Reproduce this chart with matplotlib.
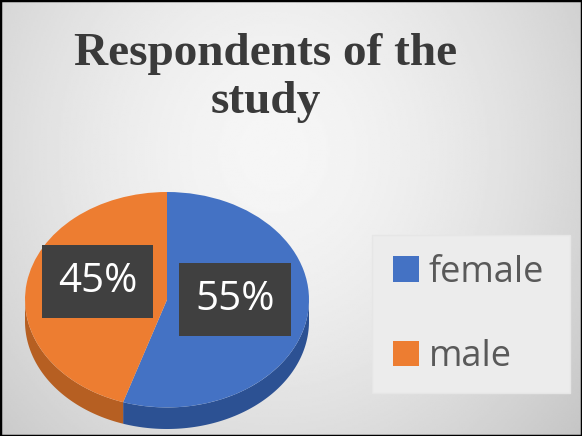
import numpy as np
import matplotlib.pyplot as plt
from matplotlib.patches import Polygon, Rectangle

labels = ['female', 'male']
shares = [55, 45]
top_colors = ['#4472c4', '#ed7d31']
side_colors = ['#2c5193', '#b65f22']

W, H = 582, 436
fig = plt.figure(figsize=(W / 100, H / 100), dpi=100)

# soft grey radial backdrop
bg = fig.add_axes([0, 0, 1, 1])
yy, xx = np.mgrid[0:1:220j, 0:1:290j]
dist = np.sqrt(((xx - 0.47) / 0.75) ** 2 + ((yy - 0.35) / 1.1) ** 2)
shade = np.clip(0.965 - 0.22 * dist ** 1.6, 0, 1)
bg.imshow(shade, cmap='gray', vmin=0, vmax=1, aspect='auto',
          extent=(0, 1, 0, 1), interpolation='bilinear')
bg.set_xlim(0, 1)
bg.set_ylim(0, 1)
bg.set_axis_off()

fig.text(266 / W, 1 - 78 / H, 'Respondents of the\nstudy', ha='center', va='center',
         fontsize=34, fontweight='bold', family='Liberation Serif',
         color='#3a3a3a', linespacing=1.2)

# tilted pie: squashed top face plus a darker rim below it
depth = 0.2
ax = fig.add_axes([25 / W, (H - 429) / H, 284 / W, (429 - 192) / H])
wedges, texts, autotexts = ax.pie(
    shares, colors=top_colors, startangle=90, counterclock=False,
    autopct='%.0f%%', pctdistance=0.5,
    wedgeprops=dict(linewidth=0, zorder=3),
    textprops=dict(color='white', fontsize=29, family='Open Sans', zorder=5))

for w, c in zip(wedges, side_colors):
    t = np.radians(np.linspace(w.theta1, w.theta2, 300))
    keep = np.sin(t) <= 0
    if not keep.any():
        continue
    t = t[keep]
    upper = np.column_stack([np.cos(t), np.sin(t)])
    lower = np.column_stack([np.cos(t), np.sin(t) - depth])[::-1]
    ax.add_patch(Polygon(np.vstack([upper, lower]), closed=True,
                         fc=c, ec='none', zorder=2))

label_pos = [(0.48, 0.0), (-0.49, 0.17)]
for at, pos in zip(autotexts, label_pos):
    at.set_position(pos)
    at.set_bbox(dict(boxstyle='square,pad=0.4', fc='#404040', ec='none'))

ax.set_aspect('auto')
ax.set_xlim(-1, 1)
ax.set_ylim(-1 - depth, 1)
ax.set_axis_off()

# legend panel
fig.patches.append(Rectangle((372 / W, (H - 393) / H), 198 / W, 158 / H,
                             transform=fig.transFigure, fc='#ececec',
                             ec='#e6e6e6', lw=1, zorder=1))
fig.legend(wedges, labels, loc='center left', bbox_to_anchor=(379 / W, (H - 315) / H),
           frameon=False, handlelength=0.7, handleheight=0.7, handletextpad=0.28,
           labelspacing=1.35, borderaxespad=0,
           prop=dict(family='Open Sans', size=26), labelcolor='#595959')

fig.patches.append(Rectangle((0, 0), 1, 1, transform=fig.transFigure,
                             fill=False, ec='black', lw=2.5))

fig.savefig('out.png', dpi=100)
